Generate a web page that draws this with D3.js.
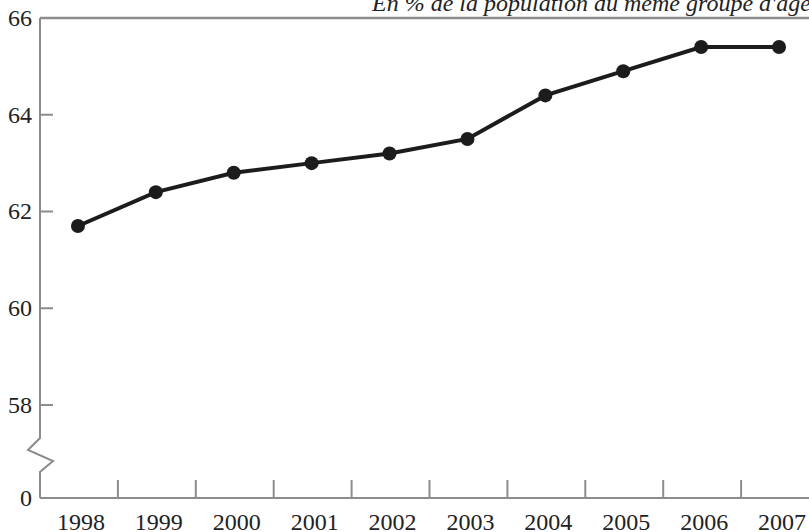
<!DOCTYPE html>
<html>
<head>
<meta charset="utf-8">
<script src="https://cdn.jsdelivr.net/npm/d3@7"></script>
<style>
  html, body { margin: 0; padding: 0; background: #fff; }
  svg { display: block; }
</style>
</head>
<body>
<svg id="chart" width="809" height="532"></svg>
<script>
const years = [1998, 1999, 2000, 2001, 2002, 2003, 2004, 2005, 2006, 2007];
const values = [61.7, 62.4, 62.8, 63.0, 63.2, 63.5, 64.4, 64.9, 65.4, 65.4];
const yTicks = [0, 58, 60, 62, 64, 66];
const title = "En % de la population du même groupe d'âge";

(function () {
const svg = d3.select("#chart");
const axisColor = "#8c8c8c";
const mLeft = 40, mBottom = 498, mTop = 18;
const serif = "Liberation Serif, Times New Roman, serif";

const x = d3.scaleBand().domain(years).range([mLeft, mLeft + 77.9 * years.length]).padding(0);
const y = d3.scaleLinear().domain([0, 58, 66]).range([mBottom, 405, mTop]);

// title
svg.append("text")
  .attr("x", 372).attr("y", 11)
  .attr("font-family", serif)
  .attr("font-style", "italic")
  .attr("font-size", 24)
  .attr("fill", "#222")
  .text(title);

// top rule
svg.append("line")
  .attr("x1", mLeft).attr("x2", 809)
  .attr("y1", mTop).attr("y2", mTop)
  .attr("stroke", axisColor).attr("stroke-width", 2.5);

// y axis with break
const brk = [
  [mLeft, mTop], [mLeft, 438], [28, 450], [53, 461], [mLeft, 472], [mLeft, mBottom]
];
svg.append("path")
  .attr("d", d3.line()(brk))
  .attr("fill", "none").attr("stroke", axisColor).attr("stroke-width", 2)
  .attr("stroke-linejoin", "miter");

// x axis baseline
svg.append("line")
  .attr("x1", mLeft).attr("x2", 809)
  .attr("y1", mBottom).attr("y2", mBottom)
  .attr("stroke", axisColor).attr("stroke-width", 2);

// y ticks
svg.selectAll(".ytick").data(yTicks.filter(d => d !== 0 && d !== 66)).enter()
  .append("line")
  .attr("x1", mLeft).attr("x2", mLeft + 13)
  .attr("y1", d => y(d)).attr("y2", d => y(d))
  .attr("stroke", axisColor).attr("stroke-width", 2);

svg.selectAll(".ylab").data(yTicks).enter()
  .append("text")
  .attr("x", 32).attr("y", d => y(d))
  .attr("dy", "0.33em")
  .attr("text-anchor", "end")
  .attr("font-family", serif)
  .attr("font-size", 24)
  .attr("fill", "#222")
  .text(d => d);

// x ticks at band boundaries
svg.selectAll(".xtick").data(years.slice(1)).enter()
  .append("line")
  .attr("x1", d => x(d)).attr("x2", d => x(d))
  .attr("y1", mBottom).attr("y2", mBottom - 18)
  .attr("stroke", axisColor).attr("stroke-width", 2);

svg.selectAll(".xlab").data(years).enter()
  .append("text")
  .attr("x", d => x(d) + x.bandwidth() / 2 + 2)
  .attr("y", 530)
  .attr("text-anchor", "middle")
  .attr("font-family", serif)
  .attr("font-size", 24)
  .attr("fill", "#222")
  .text(d => d);

// line
const cx = d => x(d) + x.bandwidth() / 2 - 1;
const pts = years.map((yr, i) => [yr, values[i]]);
svg.append("path")
  .datum(pts)
  .attr("d", d3.line().x(d => cx(d[0])).y(d => y(d[1])))
  .attr("fill", "none").attr("stroke", "#1c1c1c").attr("stroke-width", 4);

svg.selectAll(".pt").data(pts).enter()
  .append("circle")
  .attr("cx", d => cx(d[0])).attr("cy", d => y(d[1]))
  .attr("r", 7)
  .attr("fill", "#1c1c1c");
})();
</script>
</body>
</html>
